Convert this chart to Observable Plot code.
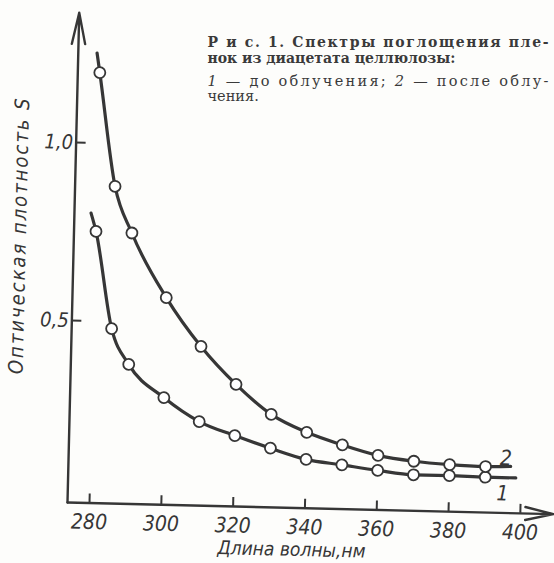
<!DOCTYPE html>
<html><head><meta charset="utf-8">
<script src="https://cdn.jsdelivr.net/npm/d3@7"></script>
<script src="https://cdn.jsdelivr.net/npm/@observablehq/plot@0.6"></script>
<style>
html,body{margin:0;padding:0;background:#fdfdfb;}
#chart{width:554px;height:563px;overflow:hidden;}
</style></head><body><div id="chart"></div>
<script>
// ---- data ----
const wavelength = [280, 285, 290, 300, 310, 320, 330, 340, 350, 360, 370, 380, 390];
const curve1 = [0.752, 0.480, 0.381, 0.290, 0.225, 0.188, 0.155, 0.126, 0.113, 0.100, 0.090, 0.090, 0.088];
const curve2 = [1.198, 0.880, 0.750, 0.571, 0.436, 0.332, 0.250, 0.202, 0.169, 0.142, 0.128, 0.121, 0.118];
const curve1Start = [278.5, 0.803], curve1End = [398.5, 0.088];
const curve2Start = [279.1, 1.253], curve2End = [397.0, 0.120];
const xTicks = [280, 300, 320, 340, 360, 380, 400];
const yTicks = [0.5, 1.0];
const yTickLabels = ["0,5", "1,0"];
const curveNames = ["1", "2"];
const xLabel = "Длина волны,нм";
const yLabel = "Оптическая плотность S";
const captionBold = ["Р и с. 1. Спектры поглощения пле-", "нок из диацетата целлюлозы:"];
const captionText = ["1 — до облучения; 2 — после облу-", "чения."];

// ---- layout ----
const W = 554, H = 563, ml = 67, mr = 1, mt = 12, mb = 61;
const xDomain = [273.87, 409.2];
const yDomain = [-0.0112, 1.3652];
const ink = "#363636";
const FONT = "'Liberation Sans Narrow','DejaVu Sans Condensed','Liberation Sans',sans-serif";
const SERIF = "'DejaVu Serif','Liberation Serif',serif";
const px = d3.scaleLinear(xDomain, [ml, W - mr]);
const py = d3.scaleLinear(yDomain, [H - mb, mt]);

const pts1 = wavelength.map((w, i) => ({x: w, y: curve1[i]}));
const pts2 = wavelength.map((w, i) => ({x: w, y: curve2[i]}));
const line1 = [{x: curve1Start[0], y: curve1Start[1]}, ...pts1, {x: curve1End[0], y: curve1End[1]}];
const line2 = [{x: curve2Start[0], y: curve2Start[1]}, ...pts2, {x: curve2End[0], y: curve2End[1]}];

const tickLenX = py.invert(H - mb - 9) - yDomain[0];
const tickLenY = px.invert(ml + 10) - xDomain[0];

function capLine(txt, bold, dy) {
  return Plot.text([txt], {
    text: d => d, frameAnchor: "top-left", dx: 207 - ml, dy: dy - mt,
    textAnchor: "start", lineAnchor: "bottom",
    fontFamily: SERIF, fontSize: bold ? 14 : 14.5, fontWeight: bold ? "bold" : "normal",
    fill: "#3a3a3a", ariaDescription: "caption"
  });
}

const chart = Plot.plot({
  width: W, height: H,
  marginLeft: ml, marginRight: mr, marginTop: mt, marginBottom: mb,
  style: {background: "transparent", fontFamily: FONT, color: ink},
  x: {domain: xDomain, type: "linear"},
  y: {domain: yDomain, type: "linear"},
  marks: [
    // axes with arrows
    Plot.arrow([0], {x1: xDomain[0], y1: yDomain[0], x2: xDomain[0], y2: yDomain[1],
      stroke: ink, strokeWidth: 2.4, headLength: 20, headAngle: 24}),
    Plot.arrow([0], {x1: xDomain[0], y1: yDomain[0], x2: xDomain[1], y2: yDomain[0],
      stroke: ink, strokeWidth: 2.4, headLength: 18, headAngle: 26}),
    Plot.ruleX(xTicks, {x: d => d, y1: yDomain[0], y2: yDomain[0] + tickLenX, stroke: ink, strokeWidth: 2}),
    Plot.ruleY(yTicks, {y: d => d, x1: xDomain[0], x2: xDomain[0] + tickLenY, stroke: ink, strokeWidth: 2}),
    Plot.axisX(xTicks, {tickSize: 0, tickPadding: 11, fontSize: 21, fontStyle: "italic", label: null, fill: ink}),
    Plot.axisY(yTicks, {tickSize: 0, tickPadding: 3, fontSize: 20, fontStyle: "italic", label: null, fill: ink,
      tickFormat: d => yTickLabels[yTicks.indexOf(d)]}),
    // axis titles
    Plot.text([xLabel], {text: d => d, frameAnchor: "bottom", textAnchor: "middle", dx: -18, dy: 48, lineAnchor: "bottom",
      fontSize: 19, fontStyle: "italic", fill: ink}),
    Plot.text([yLabel], {text: d => d, frameAnchor: "left", textAnchor: "middle", rotate: -90, dx: -48, dy: -21,
      lineAnchor: "bottom", fontSize: 20, fontStyle: "italic", fill: ink, ariaDescription: "ytitle"}),
    // curves
    Plot.line(line1, {x: "x", y: "y", curve: "monotone-x", stroke: ink, strokeWidth: 3.2}),
    Plot.line(line2, {x: "x", y: "y", curve: "monotone-x", stroke: ink, strokeWidth: 3.2}),
    Plot.dot(pts1, {x: "x", y: "y", r: 5.5, fill: "white", stroke: ink, strokeWidth: 1.8}),
    Plot.dot(pts2, {x: "x", y: "y", r: 5.5, fill: "white", stroke: ink, strokeWidth: 1.8}),
    // curve labels
    Plot.text([curve2End], {x: d => d[0], y: d => d[1], text: () => curveNames[1], dx: -5, dy: -8,
      fontSize: 21, fontStyle: "italic", fill: ink}),
    Plot.text([curve1End], {x: d => d[0], y: d => d[1], text: () => curveNames[0], dx: -13, dy: 16,
      fontSize: 21, fontStyle: "italic", fill: ink}),
    // caption (printed straight, not tilted like the scanned drawing)
    capLine(captionBold[0], true, 46),
    capLine(captionBold[1], true, 62),
    capLine(captionText[0], false, 85),
    capLine(captionText[1], false, 100)
  ]
});

// the scanned drawing is tilted slightly; tilt every part except the caption
const svg = d3.select(chart);
const rot = svg.insert("g", ":first-child").attr("transform", `rotate(1.375 ${ml} ${H - mb})`);
svg.selectAll(":scope > g").each(function () {
  if (this === rot.node()) return;
  if (this.getAttribute("aria-description") === "caption") return;
  rot.node().appendChild(this);
});
// y title is letter-spaced in the original
svg.selectAll('g[aria-description="ytitle"] text').attr("letter-spacing", 2);
// caption: justified full lines, italic numerals in the legend line
const fullLines = [captionBold[0], captionText[0]];
svg.selectAll('g[aria-description="caption"] text').each(function () {
  const t = this.textContent;
  const sel = d3.select(this);
  if (fullLines.includes(t)) sel.attr("textLength", 341).attr("lengthAdjust", "spacing");
  if (t !== captionText[0]) return;
  sel.text(null);
  t.split(/(\d)/).filter(s => s.length).forEach(s => {
    const ts = sel.append("tspan").text(s);
    if (/^\d$/.test(s)) ts.attr("font-style", "italic");
  });
});
document.getElementById("chart").appendChild(chart);
</script></body></html>
